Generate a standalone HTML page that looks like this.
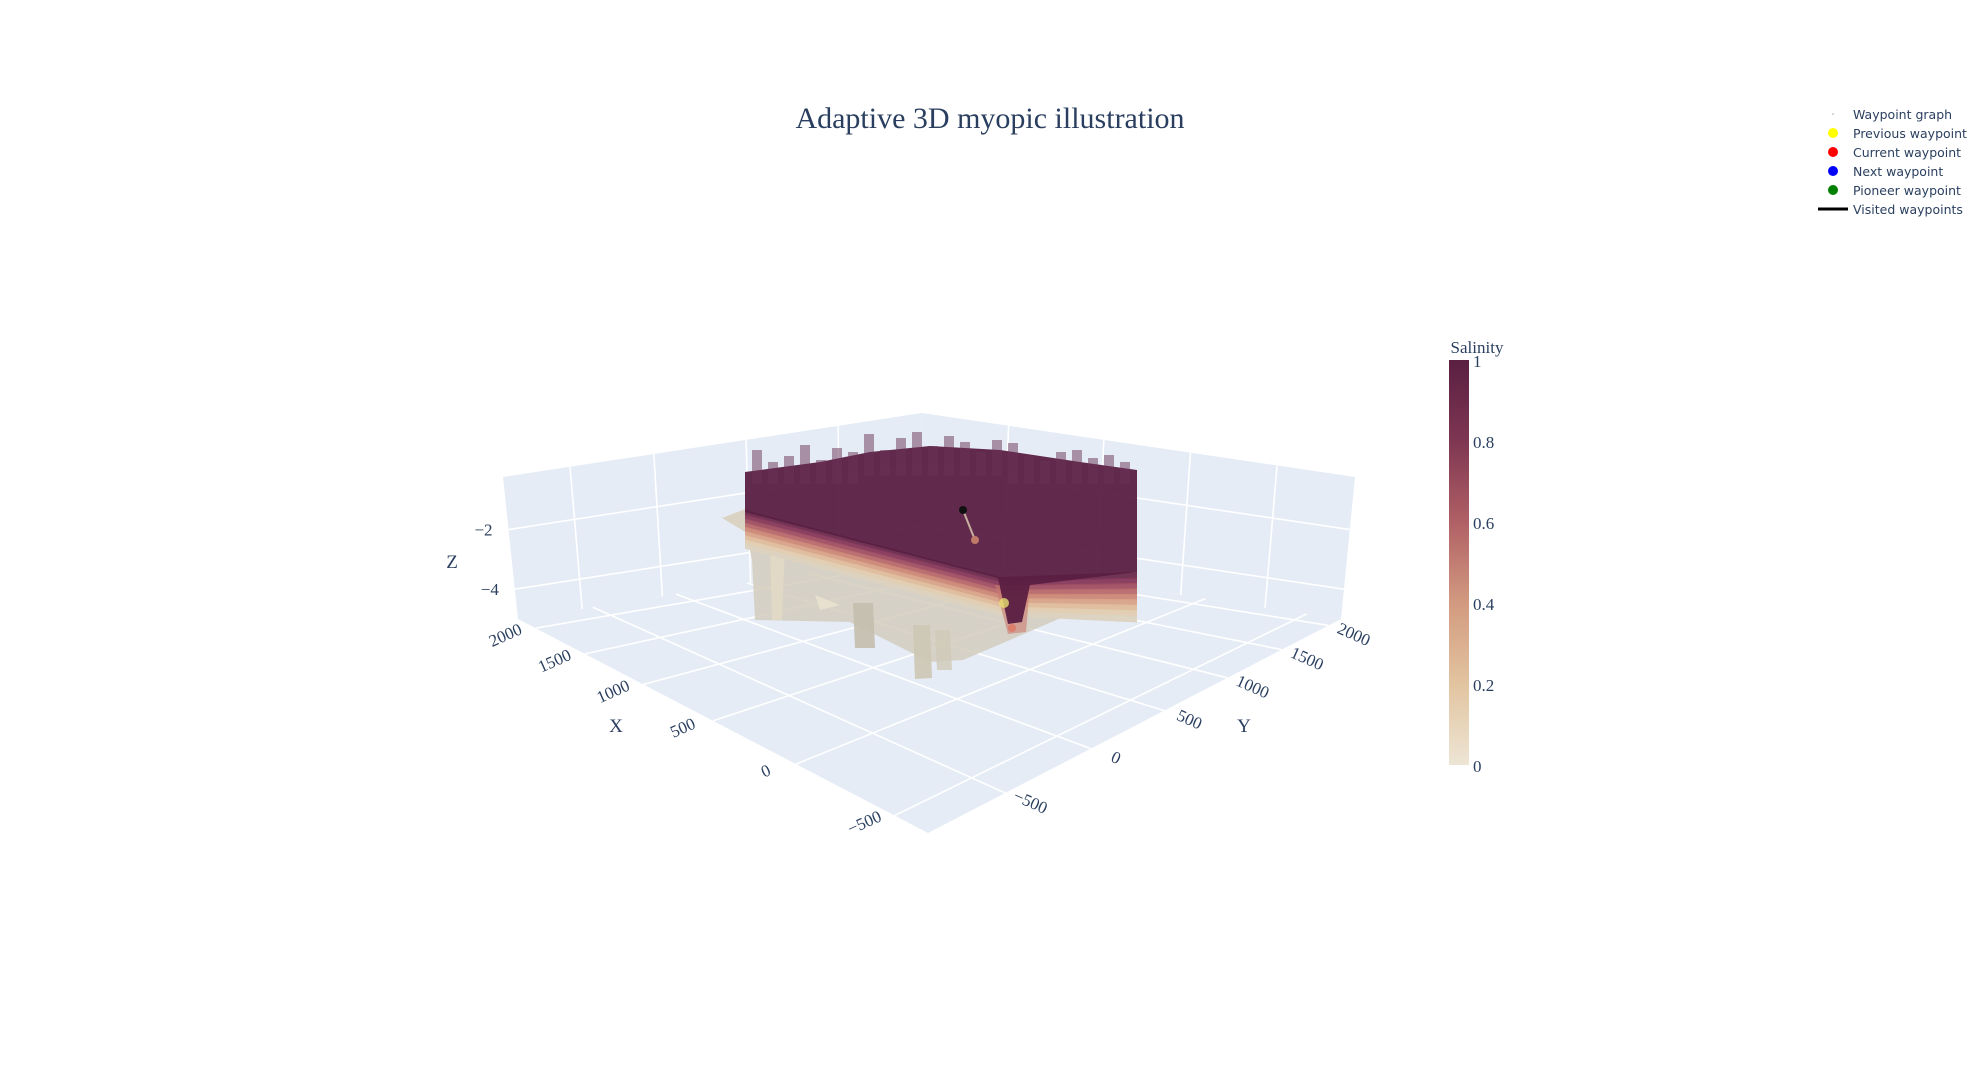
<!DOCTYPE html>
<html><head><meta charset="utf-8"><title>Adaptive 3D myopic illustration</title>
<style>
html,body{margin:0;padding:0;background:#fff;}
svg{display:block;font-family:"Liberation Serif",serif;}
.lg{font-family:"DejaVu Sans","Liberation Sans",sans-serif;font-size:12.5px;fill:#2a3f5f;}
.tk{font-size:17px;fill:#2a3f5f;}
.ttl{font-size:19px;fill:#2a3f5f;}
</style></head>
<body>
<svg id="chart" width="1980" height="1080" viewBox="0 0 1980 1080" xmlns="http://www.w3.org/2000/svg">
<defs>
<linearGradient id="cbar" x1="0" y1="1" x2="0" y2="0">
<stop offset="0" stop-color="#ede5d4"/><stop offset="0.2" stop-color="#e2c4a0"/>
<stop offset="0.4" stop-color="#d29a80"/><stop offset="0.6" stop-color="#b06065"/>
<stop offset="0.8" stop-color="#7e3652"/><stop offset="1" stop-color="#5a1f42"/>
</linearGradient>
</defs>
<text x="990" y="128" text-anchor="middle" style="font-size:30px;fill:#2a3f5f">Adaptive 3D myopic illustration</text>
<g id="scene"></g>
<g id="legend"></g>
<g id="colorbar"></g>
</svg>
<script>
const xTicks=["2000","1500","1000","500","0","\u2212500"];
const yTicks=["\u2212500","0","500","1000","1500","2000"];
const zTicks=["\u22122","\u22124"];
const cbTicks=[0,0.2,0.4,0.6,0.8,1];
const legendLabels=["Waypoint graph","Previous waypoint","Current waypoint","Next waypoint","Pioneer waypoint","Visited waypoints"];
const legendColors=["#cccccc","#ffff00","#ff0000","#0000ff","#008000","#000000"];

const NS="http://www.w3.org/2000/svg";
function mk(t,a,p){const e=document.createElementNS(NS,t);for(const k in a)e.setAttribute(k,a[k]);p.appendChild(e);return e;}
const scene=document.getElementById('scene');
const L=[518,619],B=[919,556],R=[1341,619],F=[928,833];
const LT=[503,477],BT=[922,413],RT=[1355,477];
const lerp=(a,b,t)=>[a[0]+(b[0]-a[0])*t,a[1]+(b[1]-a[1])*t];
const pts=a=>a.map(p=>p.join(',')).join(' ');
let e;
e=mk('polygon',{points:pts([LT,BT,B,L]),fill:'#e5ecf6'},scene);


e=mk('polygon',{points:pts([BT,RT,R,B]),fill:'#e5ecf6'},scene);


e=mk('polygon',{points:pts([L,B,R,F]),fill:'#e5ecf6'},scene);


const gs={stroke:'#fff','stroke-width':1.6};
const xf=i=>0.043+0.12*(Math.pow(1.19,i)-1)/0.19;
const yf=i=>0.187+0.207*(1-Math.pow(0.86,i))/0.14;
xTicks.forEach((t,i)=>{const a=lerp(L,F,xf(i)),b=lerp(B,R,xf(i));mk('line',Object.assign({x1:a[0],y1:a[1],x2:b[0],y2:b[1]},gs),scene);});
yTicks.forEach((t,i)=>{const a=lerp(F,R,yf(i)),b=lerp(L,B,yf(i));mk('line',Object.assign({x1:a[0],y1:a[1],x2:b[0],y2:b[1]},gs),scene);});
[0.16,0.36,0.58,0.8].forEach(f=>{const a=lerp(L,B,f),b=lerp(LT,BT,f);mk('line',Object.assign({x1:a[0],y1:a[1],x2:b[0],y2:b[1]},gs),scene);});
[0.2,0.42,0.62,0.82].forEach(f=>{const a=lerp(B,R,f),b=lerp(BT,RT,f);mk('line',Object.assign({x1:a[0],y1:a[1],x2:b[0],y2:b[1]},gs),scene);});
const zf=i=>0.37+i*0.42;
zTicks.forEach((t,i)=>{const f=zf(i);const a=lerp(LT,L,f),b=lerp(BT,B,f),c=lerp(RT,R,f);
 mk('polyline',Object.assign({points:pts([a,b,c]),fill:'none'},gs),scene);
 e=mk('text',{x:a[0]-16,y:a[1]+6,'text-anchor':'end',class:'tk'},scene);e.textContent=t;
 
 });
xTicks.forEach((t,i)=>{const a=lerp(L,F,xf(i));const tx=a[0]-28,ty=a[1]+12;e=mk('text',{x:tx,y:ty,'text-anchor':'middle',class:'tk',transform:`rotate(-24 ${tx} ${ty})`},scene);e.textContent=t;
 
 });
yTicks.forEach((t,i)=>{const a=lerp(F,R,yf(i));const tx=a[0]+23,ty=a[1]+14;e=mk('text',{x:tx,y:ty,'text-anchor':'middle',class:'tk',transform:`rotate(24 ${tx} ${ty})`},scene);e.textContent=t;
 
 });
[['Z',452,568,'z-axis-title'],['X',616,732,'x-axis-title'],['Y',1244,732,'y-axis-title']].forEach(d=>{e=mk('text',{x:d[1],y:d[2],'text-anchor':'middle',class:'ttl'},scene);e.textContent=d[0];
 
 });
const blob=mk('g',{},scene);


mk('polygon',{points:'745,528 1000,590 1137,595 1137,612 1063,617 1017,637 963,660 930,662 850,622 755,620 752,560',fill:'#d3cdbd',opacity:0.85},blob);
mk('polygon',{points:'853,603 873,603 875,648 855,648',fill:'#c4beae',opacity:0.9},blob);
mk('polygon',{points:'913,625 930,625 932,678 915,679',fill:'#cdc6b4',opacity:0.9},blob);
mk('polygon',{points:'935,630 950,630 952,670 937,670',fill:'#d0c9b8',opacity:0.8},blob);
mk('polygon',{points:'770,545 785,545 782,620 772,620',fill:'#e6dcc4',opacity:0.7},blob);
mk('polygon',{points:'815,595 840,605 820,610',fill:'#ebe3cf',opacity:0.8},blob);
mk('polygon',{points:'722,518 748,508 790,540 752,536',fill:'#d8cfba',opacity:0.85},blob);
const edge=[[745,510],[1000,577],[1137,572]];
const bandCols=['#6a2a4c','#86385a','#a04f62','#b86a6c','#cc8878','#d9a48a','#e0bd9e','#e3cdb2','#dcd2bf'];
bandCols.forEach((c,k)=>{const d0=k*4.2,d1=(k+1)*4.2+1;
 const top=edge.map((p,j)=>[p[0],p[1]+d0*(j===2?1.3:1)]);const bot=edge.map((p,j)=>[p[0],p[1]+d1*(j===2?1.3:1)]).reverse();
 mk('polygon',{points:pts(top.concat(bot)),fill:c,opacity:0.95},blob);});
mk('polygon',{points:'995,585 1030,585 1026,632 1008,634',fill:'#c97a70',opacity:0.6},blob);
mk('polygon',{points:'745,472 820,462 870,452 930,446 1000,450 1080,462 1137,470 1137,572 1030,585 1022,622 1008,624 998,578 745,512',fill:'#5a1f42',opacity:0.95},blob);
const spk=[20,8,14,25,10,22,18,28,12,24,30,16,26,20,10,22,27,14,9,18,20,12,15,8];
spk.forEach((h,i)=>{const x=752+i*16;mk('rect',{x:x,y:470-h-(i>6&&i<16?8:0),width:10,height:h+14,fill:'#6a3356',opacity:0.5},blob);});
mk('line',{x1:963,y1:510,x2:975,y2:540,stroke:'#c8b0a0','stroke-width':2},blob);
mk('circle',{cx:963,cy:510,r:4,fill:'#111'},blob);
mk('circle',{cx:975,cy:540,r:4,fill:'#c07a6a'},blob);
mk('circle',{cx:1004,cy:603,r:5,fill:'#e8e070',opacity:0.8},blob);
mk('circle',{cx:1012,cy:628,r:4,fill:'#e07060',opacity:0.7},blob);
const lg=document.getElementById('legend');
legendLabels.forEach((t,i)=>{const y=114+i*19;
 if(i===0){mk('circle',{cx:1833,cy:y,r:1,fill:legendColors[i]},lg);}
 else if(i===5){mk('line',{x1:1818,y1:y,x2:1848,y2:y,stroke:'#000','stroke-width':3},lg);}
 else mk('circle',{cx:1833,cy:y,r:5,fill:legendColors[i]},lg);
 e=mk('text',{x:1853,y:y+5,class:'lg'},lg);e.textContent=t;
 
 });
const cb=document.getElementById('colorbar');
e=mk('rect',{x:1449,y:360,width:20,height:405,fill:'url(#cbar)'},cb);


e=mk('text',{x:1477,y:353,'text-anchor':'middle',class:'tk'},cb);e.textContent='Salinity';


cbTicks.forEach(v=>{const y=765-v*405;e=mk('text',{x:1473,y:y+7,class:'tk'},cb);e.textContent=String(v);
 
 });
</script>
</body></html>
